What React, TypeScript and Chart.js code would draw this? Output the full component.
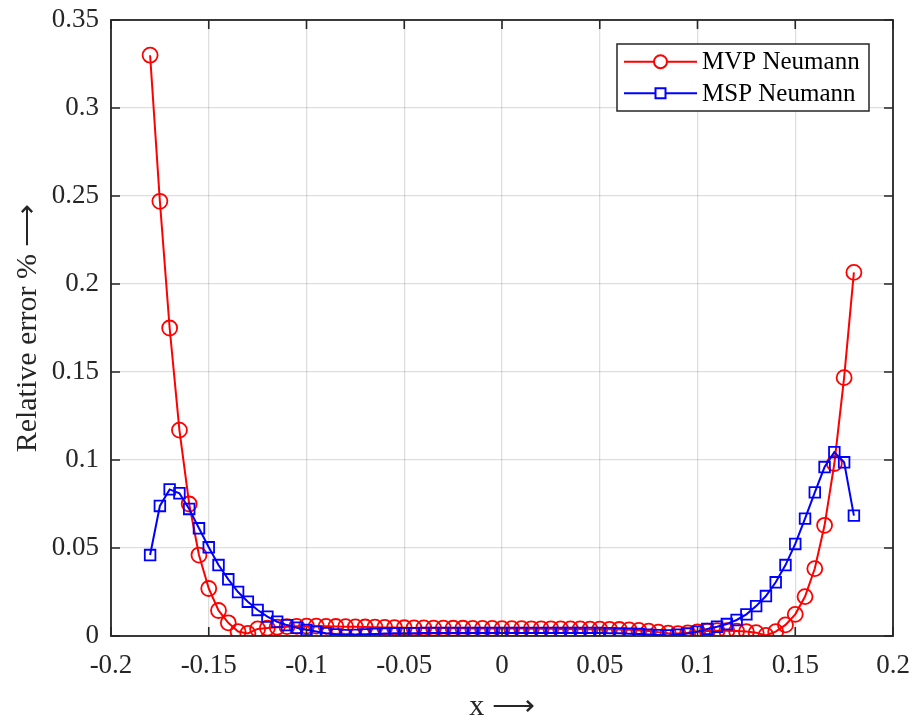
import React, { useEffect, useRef } from 'react';
import { Chart, registerables } from 'chart.js';

Chart.register(...registerables);

const X_VALUES = [
  -0.18, -0.175, -0.17, -0.165, -0.16, -0.155, -0.15, -0.145, -0.14, -0.135,
  -0.13, -0.125, -0.12, -0.115, -0.11, -0.105, -0.1, -0.095, -0.09, -0.085,
  -0.08, -0.075, -0.07, -0.065, -0.06, -0.055, -0.05, -0.045, -0.04, -0.035,
  -0.03, -0.025, -0.02, -0.015, -0.01, -0.005, 0, 0.005, 0.01, 0.015,
  0.02, 0.025, 0.03, 0.035, 0.04, 0.045, 0.05, 0.055, 0.06, 0.065,
  0.07, 0.075, 0.08, 0.085, 0.09, 0.095, 0.1, 0.105, 0.11, 0.115,
  0.12, 0.125, 0.13, 0.135, 0.14, 0.145, 0.15, 0.155, 0.16, 0.165,
  0.17, 0.175, 0.18,
];

const MVP_NEUMANN = [
  0.33, 0.247, 0.175, 0.117, 0.075, 0.046, 0.027, 0.0145, 0.0075, 0.0025,
  0.0015, 0.004, 0.0045, 0.005, 0.0053, 0.0055, 0.0056, 0.0056, 0.0055, 0.0054,
  0.0053, 0.0052, 0.0051, 0.005, 0.0049, 0.0048, 0.0047, 0.0046, 0.0046, 0.0045,
  0.0045, 0.0044, 0.0044, 0.0043, 0.0043, 0.0043, 0.0042, 0.0042, 0.0042, 0.0041,
  0.0041, 0.0041, 0.004, 0.004, 0.004, 0.0039, 0.0039, 0.0038, 0.0037, 0.0035,
  0.0032, 0.0028, 0.0022, 0.0016, 0.0014, 0.0018, 0.0024, 0.0028, 0.003, 0.003,
  0.0028, 0.0025, 0.0019, 0.0003, 0.0025, 0.0063, 0.0123, 0.0224, 0.0383, 0.0629,
  0.098, 0.1468, 0.2066,
];

const MSP_NEUMANN = [
  0.046, 0.0739, 0.0833, 0.0811, 0.0722, 0.0612, 0.0504, 0.0403, 0.0322, 0.025,
  0.0195, 0.0148, 0.011, 0.0081, 0.0062, 0.0047, 0.0035, 0.0025, 0.0016, 0.0009,
  0.0005, 0.0006, 0.0009, 0.0012, 0.0014, 0.0015, 0.0016, 0.0016, 0.0017, 0.0017,
  0.0017, 0.0017, 0.0017, 0.0017, 0.0017, 0.0017, 0.0017, 0.0017, 0.0017, 0.0017,
  0.0017, 0.0017, 0.0017, 0.0017, 0.0017, 0.0017, 0.0017, 0.0016, 0.0015, 0.0013,
  0.0011, 0.0008, 0.0005, 0.0003, 0.0008, 0.0014, 0.0025, 0.004, 0.0053, 0.0068,
  0.0091, 0.0123, 0.017, 0.0227, 0.0305, 0.0403, 0.0523, 0.0667, 0.0816, 0.096,
  0.1045, 0.0987, 0.0684,
];

const SERIES_LABELS = ['MVP Neumann', 'MSP Neumann'];
const X_TICKS = [-0.2, -0.15, -0.1, -0.05, 0, 0.05, 0.1, 0.15, 0.2];
const Y_TICKS = [0, 0.05, 0.1, 0.15, 0.2, 0.25, 0.3, 0.35];
const X_TITLE = 'x \u27F6';
const Y_TITLE = 'Relative error % \u27F6';

const FONT = "'Liberation Serif', 'Times New Roman', serif";
const AXIS_COLOR = '#262626';

const fmt = (v: number) => parseFloat(Number(v).toFixed(3)).toString();

const framePlugin = {
  id: 'matlabFrame',
  afterDraw(chart: any) {
    const ctx = chart.ctx;
    const { left, right, top, bottom } = chart.chartArea;
    const xs = chart.scales.x;
    const ys = chart.scales.y;
    const tl = 9;
    ctx.save();
    ctx.strokeStyle = AXIS_COLOR;
    ctx.lineWidth = 1.6;
    ctx.beginPath();
    X_TICKS.forEach((v) => {
      const p = xs.getPixelForValue(v);
      ctx.moveTo(p, bottom);
      ctx.lineTo(p, bottom - tl);
      ctx.moveTo(p, top);
      ctx.lineTo(p, top + tl);
    });
    Y_TICKS.forEach((v) => {
      const p = ys.getPixelForValue(v);
      ctx.moveTo(left, p);
      ctx.lineTo(left + tl, p);
      ctx.moveTo(right, p);
      ctx.lineTo(right - tl, p);
    });
    ctx.stroke();
    ctx.lineWidth = 1.8;
    ctx.strokeRect(left, top, right - left, bottom - top);

    // legend
    const bx = right - 276;
    const by = top + 24;
    const bw = 252;
    const bh = 67;
    ctx.fillStyle = '#ffffff';
    ctx.fillRect(bx, by, bw, bh);
    ctx.lineWidth = 1.5;
    ctx.strokeStyle = AXIS_COLOR;
    ctx.strokeRect(bx, by, bw, bh);
    chart.data.datasets.forEach((ds: any, i: number) => {
      const cy = by + 17.7 + i * 31.6;
      const x0 = bx + 7;
      const x1 = bx + 80;
      const cx = (x0 + x1) / 2;
      ctx.strokeStyle = ds.borderColor;
      ctx.lineWidth = 2;
      ctx.beginPath();
      ctx.moveTo(x0, cy);
      ctx.lineTo(x1, cy);
      ctx.stroke();
      ctx.beginPath();
      if (ds.pointStyle === 'rect') {
        const s = 5;
        ctx.rect(cx - s, cy - s, 2 * s, 2 * s);
      } else {
        ctx.arc(cx, cy, 6.5, 0, Math.PI * 2);
      }
      ctx.fillStyle = '#ffffff';
      ctx.fill();
      ctx.stroke();
      ctx.fillStyle = '#000000';
      ctx.font = `25px ${FONT}`;
      ctx.textAlign = 'left';
      ctx.textBaseline = 'middle';
      ctx.fillText(ds.label, x1 + 5, cy + 1);
    });
    ctx.restore();
  },
};

export default function App() {
  const canvasRef = useRef<HTMLCanvasElement | null>(null);

  useEffect(() => {
    if (!canvasRef.current) return;
    const chart = new Chart(canvasRef.current, {
      type: 'line',
      data: {
        datasets: [
          {
            label: SERIES_LABELS[0],
            data: X_VALUES.map((x, i) => ({ x, y: MVP_NEUMANN[i] })),
            borderColor: '#ff0000',
            backgroundColor: 'rgba(0,0,0,0)',
            pointBackgroundColor: 'rgba(0,0,0,0)',
            pointBorderColor: '#ff0000',
            pointStyle: 'circle',
            pointRadius: 7.5,
            pointBorderWidth: 1.8,
            borderWidth: 2,
            tension: 0,
            order: 2,
          },
          {
            label: SERIES_LABELS[1],
            data: X_VALUES.map((x, i) => ({ x, y: MSP_NEUMANN[i] })),
            borderColor: '#0000ff',
            backgroundColor: 'rgba(0,0,0,0)',
            pointBackgroundColor: 'rgba(0,0,0,0)',
            pointBorderColor: '#0000ff',
            pointStyle: 'rect',
            pointRadius: 7.5,
            pointBorderWidth: 1.8,
            borderWidth: 2,
            tension: 0,
            order: 1,
          },
        ],
      },
      options: {
        animation: false,
        responsive: false,
        maintainAspectRatio: false,
        events: [],
        layout: { autoPadding: false, padding: { left: 0, top: 20, right: 22, bottom: 0 } },
        plugins: {
          legend: { display: false },
          tooltip: { enabled: false },
        },
        scales: {
          x: {
            type: 'linear',
            min: -0.2,
            max: 0.2,
            afterBuildTicks: (axis: any) => {
              axis.ticks = X_TICKS.map((v) => ({ value: v }));
            },
            afterFit: (axis: any) => {
              axis.height = 86;
              axis.paddingLeft = 0;
              axis.paddingRight = 0;
            },
            border: { display: false },
            grid: {
              color: 'rgba(0,0,0,0.13)',
              lineWidth: 1.3,
              drawTicks: false,
            },
            ticks: {
              autoSkip: false,
              maxRotation: 0,
              padding: 14,
              color: '#262626',
              font: { family: FONT, size: 27 },
              callback: (v: any) => fmt(v),
            },
            title: {
              display: true,
              text: X_TITLE,
              color: '#262626',
              font: { family: FONT, size: 30, lineHeight: 1 },
              padding: { top: 0, bottom: 0 },
            },
          },
          y: {
            type: 'linear',
            min: 0,
            max: 0.35,
            afterBuildTicks: (axis: any) => {
              axis.ticks = Y_TICKS.map((v) => ({ value: v }));
            },
            afterFit: (axis: any) => {
              axis.width = 111;
              axis.paddingTop = 0;
              axis.paddingBottom = 0;
            },
            border: { display: false },
            grid: {
              color: 'rgba(0,0,0,0.13)',
              lineWidth: 1.3,
              drawTicks: false,
            },
            ticks: {
              autoSkip: false,
              padding: 12,
              color: '#262626',
              font: { family: FONT, size: 27 },
              callback: (v: any) => fmt(v),
            },
            title: {
              display: true,
              text: Y_TITLE,
              color: '#262626',
              font: { family: FONT, size: 30, lineHeight: 1 },
              padding: { top: 13, bottom: 0 },
            },
          },
        },
      },
      plugins: [framePlugin],
    } as any);
    return () => chart.destroy();
  }, []);

  return (
    <div style={{ position: 'fixed', left: 0, top: 0, width: 915, height: 722, background: '#ffffff' }}>
      <canvas ref={canvasRef} width={915} height={722} style={{ width: 915, height: 722, display: 'block' }} />
    </div>
  );
}
